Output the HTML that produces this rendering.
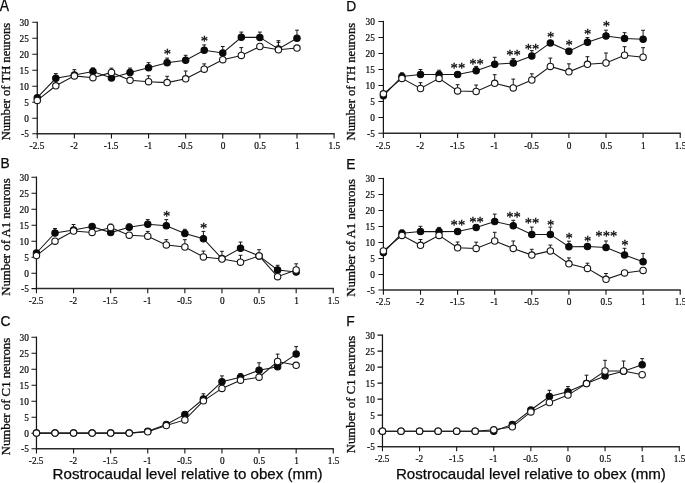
<!DOCTYPE html>
<html><head><meta charset="utf-8"><title>Figure</title>
<style>html,body{margin:0;padding:0;background:#fff}svg{display:block;will-change:transform;filter:grayscale(1)}</style></head>
<body>
<svg width="685" height="483" viewBox="0 0 685 483">
<rect width="685" height="483" fill="#fff"/>
<g stroke="#161616" stroke-width="1.1" fill="none">
<path d="M37.27 21.70V134.30" stroke-width="1.25"/>
<path d="M36.67 133.70H334.67" stroke="#2b2b2b" stroke-width="1.5"/>
<path d="M32.27 133.70H37.27M32.27 118.30H37.27M32.27 102.30H37.27M32.27 86.30H37.27M32.27 70.30H37.27M32.27 54.30H37.27M32.27 38.30H37.27M32.27 22.30H37.27M37.27 133.70V138.40M74.37 133.70V138.40M111.47 133.70V138.40M148.57 133.70V138.40M185.67 133.70V138.40M222.77 133.70V138.40M259.87 133.70V138.40M296.97 133.70V138.40M334.07 133.70V138.40"/>
</g>
<g font-family="Liberation Serif, serif" font-size="9.3" fill="#0a0a0a" stroke="#0a0a0a" stroke-width="0.2">
<text x="28.80" y="137.20" text-anchor="end">-5</text>
<text x="28.80" y="121.80" text-anchor="end">0</text>
<text x="28.80" y="105.80" text-anchor="end">5</text>
<text x="28.80" y="89.80" text-anchor="end">10</text>
<text x="28.80" y="73.80" text-anchor="end">15</text>
<text x="28.80" y="57.80" text-anchor="end">20</text>
<text x="28.80" y="41.80" text-anchor="end">25</text>
<text x="28.80" y="25.80" text-anchor="end">30</text>
<text x="36.97" y="149.30" text-anchor="middle">-2.5</text>
<text x="74.07" y="149.30" text-anchor="middle">-2</text>
<text x="111.17" y="149.30" text-anchor="middle">-1.5</text>
<text x="148.27" y="149.30" text-anchor="middle">-1</text>
<text x="185.37" y="149.30" text-anchor="middle">-0.5</text>
<text x="223.07" y="149.30" text-anchor="middle">0</text>
<text x="260.17" y="149.30" text-anchor="middle">0.5</text>
<text x="297.27" y="149.30" text-anchor="middle">1</text>
<text x="334.37" y="149.30" text-anchor="middle">1.5</text>
</g>
<text transform="translate(9.70 140.30) rotate(-90)" font-family="Liberation Serif, serif" font-size="12.2" fill="#0a0a0a" stroke="#0a0a0a" stroke-width="0.3" textLength="117.5" lengthAdjust="spacingAndGlyphs">Number of TH neurons</text>
<text x="-0.2" y="10.9" font-family="Liberation Sans, sans-serif" font-size="16.2" textLength="9.3" lengthAdjust="spacingAndGlyphs" fill="#0a0a0a" stroke="#0a0a0a" stroke-width="0.25">A</text>
<path d="M55.82 78.30V73.60M53.92 73.60H57.72M74.37 75.10V69.70M72.47 69.70H76.27M92.92 71.50V67.90M91.02 67.90H94.82M130.02 72.50V68.10M128.12 68.10H131.92M148.57 67.70V62.70M146.67 62.70H150.47M167.12 62.70V58.10M165.22 58.10H169.02M185.67 60.30V55.30M183.77 55.30H187.57M204.22 50.30V44.90M202.32 44.90H206.12M222.77 52.90V46.50M220.87 46.50H224.67M241.32 37.30V32.10M239.42 32.10H243.22M259.87 37.40V32.10M257.97 32.10H261.77M278.42 49.00V40.70M276.52 40.70H280.32M296.97 38.20V30.20M295.07 30.20H298.87M111.47 72.40V68.20M109.57 68.20H113.37M148.57 81.70V75.80M146.67 75.80H150.47M167.12 82.60V76.30M165.22 76.30H169.02M185.67 78.80V71.00M183.77 71.00H187.57M204.22 69.20V63.90M202.32 63.90H206.12M241.32 55.40V47.60M239.42 47.60H243.22M278.42 49.80V42.30M276.52 42.30H280.32" stroke="#161616" stroke-width="1" fill="none"/>
<polyline points="37.27,97.70 55.82,78.30 74.37,75.10 92.92,71.50 111.47,77.90 130.02,72.50 148.57,67.70 167.12,62.70 185.67,60.30 204.22,50.30 222.77,52.90 241.32,37.30 259.87,37.40 278.42,49.00 296.97,38.20" stroke="#161616" stroke-width="1.05" fill="none"/>
<polyline points="37.27,100.40 55.82,85.80 74.37,75.90 92.92,77.70 111.47,72.40 130.02,80.30 148.57,81.70 167.12,82.60 185.67,78.80 204.22,69.20 222.77,59.70 241.32,55.40 259.87,46.50 278.42,49.80 296.97,48.10" stroke="#161616" stroke-width="1.05" fill="none"/>
<g stroke="#0a0a0a" stroke-width="1.1" fill="#0a0a0a">
<circle cx="37.27" cy="97.70" r="3.2"/>
<circle cx="55.82" cy="78.30" r="3.2"/>
<circle cx="74.37" cy="75.10" r="3.2"/>
<circle cx="92.92" cy="71.50" r="3.2"/>
<circle cx="111.47" cy="77.90" r="3.2"/>
<circle cx="130.02" cy="72.50" r="3.2"/>
<circle cx="148.57" cy="67.70" r="3.2"/>
<circle cx="167.12" cy="62.70" r="3.2"/>
<circle cx="185.67" cy="60.30" r="3.2"/>
<circle cx="204.22" cy="50.30" r="3.2"/>
<circle cx="222.77" cy="52.90" r="3.2"/>
<circle cx="241.32" cy="37.30" r="3.2"/>
<circle cx="259.87" cy="37.40" r="3.2"/>
<circle cx="278.42" cy="49.00" r="3.2"/>
<circle cx="296.97" cy="38.20" r="3.2"/>
</g>
<g stroke="#161616" stroke-width="1.1" fill="#fff">
<circle cx="37.27" cy="100.40" r="3.2"/>
<circle cx="55.82" cy="85.80" r="3.2"/>
<circle cx="74.37" cy="75.90" r="3.2"/>
<circle cx="92.92" cy="77.70" r="3.2"/>
<circle cx="111.47" cy="72.40" r="3.2"/>
<circle cx="130.02" cy="80.30" r="3.2"/>
<circle cx="148.57" cy="81.70" r="3.2"/>
<circle cx="167.12" cy="82.60" r="3.2"/>
<circle cx="185.67" cy="78.80" r="3.2"/>
<circle cx="204.22" cy="69.20" r="3.2"/>
<circle cx="222.77" cy="59.70" r="3.2"/>
<circle cx="241.32" cy="55.40" r="3.2"/>
<circle cx="259.87" cy="46.50" r="3.2"/>
<circle cx="278.42" cy="49.80" r="3.2"/>
<circle cx="296.97" cy="48.10" r="3.2"/>
</g>
<g font-family="Liberation Serif, serif" font-size="14.6" fill="#0a0a0a" stroke="#0a0a0a" stroke-width="0.3" text-anchor="middle">
<text x="167.42" y="58.60">*</text>
<text x="204.52" y="45.80">*</text>
</g>
<g stroke="#161616" stroke-width="1.1" fill="none">
<path d="M36.46 176.60V289.20" stroke-width="1.25"/>
<path d="M35.86 288.60H333.86" stroke="#2b2b2b" stroke-width="1.5"/>
<path d="M31.46 288.60H36.46M31.46 273.20H36.46M31.46 257.20H36.46M31.46 241.20H36.46M31.46 225.20H36.46M31.46 209.20H36.46M31.46 193.20H36.46M31.46 177.20H36.46M36.46 288.60V293.30M73.56 288.60V293.30M110.66 288.60V293.30M147.76 288.60V293.30M184.86 288.60V293.30M221.96 288.60V293.30M259.06 288.60V293.30M296.16 288.60V293.30M333.26 288.60V293.30"/>
</g>
<g font-family="Liberation Serif, serif" font-size="9.3" fill="#0a0a0a" stroke="#0a0a0a" stroke-width="0.2">
<text x="28.80" y="292.10" text-anchor="end">-5</text>
<text x="28.80" y="276.70" text-anchor="end">0</text>
<text x="28.80" y="260.70" text-anchor="end">5</text>
<text x="28.80" y="244.70" text-anchor="end">10</text>
<text x="28.80" y="228.70" text-anchor="end">15</text>
<text x="28.80" y="212.70" text-anchor="end">20</text>
<text x="28.80" y="196.70" text-anchor="end">25</text>
<text x="28.80" y="180.70" text-anchor="end">30</text>
<text x="36.16" y="304.20" text-anchor="middle">-2.5</text>
<text x="73.26" y="304.20" text-anchor="middle">-2</text>
<text x="110.36" y="304.20" text-anchor="middle">-1.5</text>
<text x="147.46" y="304.20" text-anchor="middle">-1</text>
<text x="184.56" y="304.20" text-anchor="middle">-0.5</text>
<text x="222.26" y="304.20" text-anchor="middle">0</text>
<text x="259.36" y="304.20" text-anchor="middle">0.5</text>
<text x="296.46" y="304.20" text-anchor="middle">1</text>
<text x="333.56" y="304.20" text-anchor="middle">1.5</text>
</g>
<text transform="translate(9.70 295.80) rotate(-90)" font-family="Liberation Serif, serif" font-size="12.2" fill="#0a0a0a" stroke="#0a0a0a" stroke-width="0.3" textLength="117.5" lengthAdjust="spacingAndGlyphs">Number of A1 neurons</text>
<text x="0.50" y="168.30" font-family="Liberation Sans, sans-serif" font-size="13.8" fill="#0a0a0a" stroke="#0a0a0a" stroke-width="0.25">B</text>
<path d="M55.01 233.00V228.50M53.11 228.50H56.91M73.56 230.00V224.50M71.66 224.50H75.46M129.21 227.20V223.90M127.31 223.90H131.11M147.76 224.20V219.60M145.86 219.60H149.66M166.31 225.80V219.60M164.41 219.60H168.21M184.86 233.50V229.30M182.96 229.30H186.76M203.41 238.70V231.40M201.51 231.40H205.31M221.96 258.60V251.30M220.06 251.30H223.86M240.51 248.30V242.10M238.61 242.10H242.41M259.06 255.90V249.70M257.16 249.70H260.96M277.61 270.00V265.30M275.71 265.30H279.51M110.66 227.50V224.10M108.76 224.10H112.56M147.76 236.20V231.40M145.86 231.40H149.66M166.31 244.90V239.70M164.41 239.70H168.21M184.86 247.00V239.70M182.96 239.70H186.76M203.41 256.90V251.10M201.51 251.10H205.31M240.51 262.20V255.30M238.61 255.30H242.41M296.16 270.00V263.80M294.26 263.80H298.06" stroke="#161616" stroke-width="1" fill="none"/>
<polyline points="36.46,253.00 55.01,233.00 73.56,230.00 92.11,226.50 110.66,232.60 129.21,227.20 147.76,224.20 166.31,225.80 184.86,233.50 203.41,238.70 221.96,258.60 240.51,248.30 259.06,255.90 277.61,270.00 296.16,272.10" stroke="#161616" stroke-width="1.05" fill="none"/>
<polyline points="36.46,255.60 55.01,241.20 73.56,231.00 92.11,232.40 110.66,227.50 129.21,235.20 147.76,236.20 166.31,244.90 184.86,247.00 203.41,256.90 221.96,259.00 240.51,262.20 259.06,255.90 277.61,276.70 296.16,270.00" stroke="#161616" stroke-width="1.05" fill="none"/>
<g stroke="#0a0a0a" stroke-width="1.1" fill="#0a0a0a">
<circle cx="36.46" cy="253.00" r="3.2"/>
<circle cx="55.01" cy="233.00" r="3.2"/>
<circle cx="73.56" cy="230.00" r="3.2"/>
<circle cx="92.11" cy="226.50" r="3.2"/>
<circle cx="110.66" cy="232.60" r="3.2"/>
<circle cx="129.21" cy="227.20" r="3.2"/>
<circle cx="147.76" cy="224.20" r="3.2"/>
<circle cx="166.31" cy="225.80" r="3.2"/>
<circle cx="184.86" cy="233.50" r="3.2"/>
<circle cx="203.41" cy="238.70" r="3.2"/>
<circle cx="221.96" cy="258.60" r="3.2"/>
<circle cx="240.51" cy="248.30" r="3.2"/>
<circle cx="259.06" cy="255.90" r="3.2"/>
<circle cx="277.61" cy="270.00" r="3.2"/>
<circle cx="296.16" cy="272.10" r="3.2"/>
</g>
<g stroke="#161616" stroke-width="1.1" fill="#fff">
<circle cx="36.46" cy="255.60" r="3.2"/>
<circle cx="55.01" cy="241.20" r="3.2"/>
<circle cx="73.56" cy="231.00" r="3.2"/>
<circle cx="92.11" cy="232.40" r="3.2"/>
<circle cx="110.66" cy="227.50" r="3.2"/>
<circle cx="129.21" cy="235.20" r="3.2"/>
<circle cx="147.76" cy="236.20" r="3.2"/>
<circle cx="166.31" cy="244.90" r="3.2"/>
<circle cx="184.86" cy="247.00" r="3.2"/>
<circle cx="203.41" cy="256.90" r="3.2"/>
<circle cx="221.96" cy="259.00" r="3.2"/>
<circle cx="240.51" cy="262.20" r="3.2"/>
<circle cx="259.06" cy="255.90" r="3.2"/>
<circle cx="277.61" cy="276.70" r="3.2"/>
<circle cx="296.16" cy="270.00" r="3.2"/>
</g>
<g font-family="Liberation Serif, serif" font-size="14.6" fill="#0a0a0a" stroke="#0a0a0a" stroke-width="0.3" text-anchor="middle">
<text x="166.61" y="220.50">*</text>
<text x="203.71" y="232.70">*</text>
</g>
<g stroke="#161616" stroke-width="1.1" fill="none">
<path d="M36.46 336.66V449.30" stroke-width="1.25"/>
<path d="M35.86 448.70H333.86" stroke="#2b2b2b" stroke-width="1.5"/>
<path d="M31.46 448.70H36.46M31.46 433.26H36.46M31.46 417.26H36.46M31.46 401.26H36.46M31.46 385.26H36.46M31.46 369.26H36.46M31.46 353.26H36.46M31.46 337.26H36.46M36.46 448.70V453.40M73.56 448.70V453.40M110.66 448.70V453.40M147.76 448.70V453.40M184.86 448.70V453.40M221.96 448.70V453.40M259.06 448.70V453.40M296.16 448.70V453.40M333.26 448.70V453.40"/>
</g>
<g font-family="Liberation Serif, serif" font-size="9.3" fill="#0a0a0a" stroke="#0a0a0a" stroke-width="0.2">
<text x="28.80" y="452.20" text-anchor="end">-5</text>
<text x="28.80" y="436.76" text-anchor="end">0</text>
<text x="28.80" y="420.76" text-anchor="end">5</text>
<text x="28.80" y="404.76" text-anchor="end">10</text>
<text x="28.80" y="388.76" text-anchor="end">15</text>
<text x="28.80" y="372.76" text-anchor="end">20</text>
<text x="28.80" y="356.76" text-anchor="end">25</text>
<text x="28.80" y="340.76" text-anchor="end">30</text>
<text x="36.16" y="463.90" text-anchor="middle">-2.5</text>
<text x="73.26" y="463.90" text-anchor="middle">-2</text>
<text x="110.36" y="463.90" text-anchor="middle">-1.5</text>
<text x="147.46" y="463.90" text-anchor="middle">-1</text>
<text x="184.56" y="463.90" text-anchor="middle">-0.5</text>
<text x="222.26" y="463.90" text-anchor="middle">0</text>
<text x="259.36" y="463.90" text-anchor="middle">0.5</text>
<text x="296.46" y="463.90" text-anchor="middle">1</text>
<text x="333.56" y="463.90" text-anchor="middle">1.5</text>
</g>
<text transform="translate(9.70 455.30) rotate(-90)" font-family="Liberation Serif, serif" font-size="12.2" fill="#0a0a0a" stroke="#0a0a0a" stroke-width="0.3" textLength="117.5" lengthAdjust="spacingAndGlyphs">Number of C1 neurons</text>
<text x="0.50" y="325.80" font-family="Liberation Sans, sans-serif" font-size="13.8" fill="#0a0a0a" stroke="#0a0a0a" stroke-width="0.25">C</text>
<path d="M203.41 399.00V393.80M201.51 393.80H205.31M221.96 381.70V375.90M220.06 375.90H223.86M240.51 377.20V373.50M238.61 373.50H242.41M259.06 370.20V362.80M257.16 362.80H260.96M296.16 354.10V346.60M294.26 346.60H298.06M277.61 361.50V354.10M275.71 354.10H279.51" stroke="#161616" stroke-width="1" fill="none"/>
<polyline points="36.46,433.10 55.01,433.10 73.56,433.10 92.11,433.10 110.66,433.10 129.21,433.10 147.76,431.30 166.31,424.40 184.86,414.40 203.41,399.00 221.96,381.70 240.51,377.20 259.06,370.20 277.61,366.80 296.16,354.10" stroke="#161616" stroke-width="1.05" fill="none"/>
<polyline points="36.46,433.10 55.01,433.10 73.56,433.10 92.11,433.10 110.66,433.10 129.21,433.10 147.76,431.80 166.31,425.60 184.86,419.90 203.41,400.80 221.96,388.40 240.51,380.20 259.06,377.20 277.61,361.50 296.16,365.30" stroke="#161616" stroke-width="1.05" fill="none"/>
<g stroke="#0a0a0a" stroke-width="1.1" fill="#0a0a0a">
<circle cx="36.46" cy="433.10" r="3.2"/>
<circle cx="55.01" cy="433.10" r="3.2"/>
<circle cx="73.56" cy="433.10" r="3.2"/>
<circle cx="92.11" cy="433.10" r="3.2"/>
<circle cx="110.66" cy="433.10" r="3.2"/>
<circle cx="129.21" cy="433.10" r="3.2"/>
<circle cx="147.76" cy="431.30" r="3.2"/>
<circle cx="166.31" cy="424.40" r="3.2"/>
<circle cx="184.86" cy="414.40" r="3.2"/>
<circle cx="203.41" cy="399.00" r="3.2"/>
<circle cx="221.96" cy="381.70" r="3.2"/>
<circle cx="240.51" cy="377.20" r="3.2"/>
<circle cx="259.06" cy="370.20" r="3.2"/>
<circle cx="277.61" cy="366.80" r="3.2"/>
<circle cx="296.16" cy="354.10" r="3.2"/>
</g>
<g stroke="#161616" stroke-width="1.1" fill="#fff">
<circle cx="36.46" cy="433.10" r="3.2"/>
<circle cx="55.01" cy="433.10" r="3.2"/>
<circle cx="73.56" cy="433.10" r="3.2"/>
<circle cx="92.11" cy="433.10" r="3.2"/>
<circle cx="110.66" cy="433.10" r="3.2"/>
<circle cx="129.21" cy="433.10" r="3.2"/>
<circle cx="147.76" cy="431.80" r="3.2"/>
<circle cx="166.31" cy="425.60" r="3.2"/>
<circle cx="184.86" cy="419.90" r="3.2"/>
<circle cx="203.41" cy="400.80" r="3.2"/>
<circle cx="221.96" cy="388.40" r="3.2"/>
<circle cx="240.51" cy="380.20" r="3.2"/>
<circle cx="259.06" cy="377.20" r="3.2"/>
<circle cx="277.61" cy="361.50" r="3.2"/>
<circle cx="296.16" cy="365.30" r="3.2"/>
</g>
<g font-family="Liberation Serif, serif" font-size="14.6" fill="#0a0a0a" stroke="#0a0a0a" stroke-width="0.3" text-anchor="middle">
</g>
<g stroke="#161616" stroke-width="1.1" fill="none">
<path d="M383.40 20.85V133.80" stroke-width="1.25"/>
<path d="M382.80 133.20H680.80" stroke="#2b2b2b" stroke-width="1.5"/>
<path d="M378.40 133.20H383.40M378.40 117.45H383.40M378.40 101.45H383.40M378.40 85.45H383.40M378.40 69.45H383.40M378.40 53.45H383.40M378.40 37.45H383.40M378.40 21.45H383.40M383.40 133.20V137.90M420.50 133.20V137.90M457.60 133.20V137.90M494.70 133.20V137.90M531.80 133.20V137.90M568.90 133.20V137.90M606.00 133.20V137.90M643.10 133.20V137.90M680.20 133.20V137.90"/>
</g>
<g font-family="Liberation Serif, serif" font-size="9.3" fill="#0a0a0a" stroke="#0a0a0a" stroke-width="0.2">
<text x="374.80" y="136.70" text-anchor="end">-5</text>
<text x="374.80" y="120.95" text-anchor="end">0</text>
<text x="374.80" y="104.95" text-anchor="end">5</text>
<text x="374.80" y="88.95" text-anchor="end">10</text>
<text x="374.80" y="72.95" text-anchor="end">15</text>
<text x="374.80" y="56.95" text-anchor="end">20</text>
<text x="374.80" y="40.95" text-anchor="end">25</text>
<text x="374.80" y="24.95" text-anchor="end">30</text>
<text x="383.10" y="148.80" text-anchor="middle">-2.5</text>
<text x="420.20" y="148.80" text-anchor="middle">-2</text>
<text x="457.30" y="148.80" text-anchor="middle">-1.5</text>
<text x="494.40" y="148.80" text-anchor="middle">-1</text>
<text x="531.50" y="148.80" text-anchor="middle">-0.5</text>
<text x="569.20" y="148.80" text-anchor="middle">0</text>
<text x="606.30" y="148.80" text-anchor="middle">0.5</text>
<text x="643.40" y="148.80" text-anchor="middle">1</text>
<text x="680.50" y="148.80" text-anchor="middle">1.5</text>
</g>
<text transform="translate(354.80 140.40) rotate(-90)" font-family="Liberation Serif, serif" font-size="12.2" fill="#0a0a0a" stroke="#0a0a0a" stroke-width="0.3" textLength="117.5" lengthAdjust="spacingAndGlyphs">Number of TH neurons</text>
<text x="346.20" y="10.90" font-family="Liberation Sans, sans-serif" font-size="13.8" fill="#0a0a0a" stroke="#0a0a0a" stroke-width="0.25">D</text>
<path d="M401.95 76.40V72.80M400.05 72.80H403.85M420.50 74.50V69.50M418.60 69.50H422.40M439.05 74.50V70.20M437.15 70.20H440.95M476.15 70.70V66.40M474.25 66.40H478.05M494.70 64.20V57.30M492.80 57.30H496.60M513.25 63.10V58.60M511.35 58.60H515.15M531.80 56.10V50.60M529.90 50.60H533.70M587.45 42.30V37.60M585.55 37.60H589.35M606.00 36.00V30.20M604.10 30.20H607.90M624.55 38.60V32.70M622.65 32.70H626.45M643.10 39.30V30.30M641.20 30.30H645.00M420.50 88.50V82.70M418.60 82.70H422.40M457.60 90.90V84.70M455.70 84.70H459.50M476.15 91.50V85.05M474.25 85.05H478.05M494.70 83.30V74.70M492.80 74.70H496.60M513.25 87.90V79.10M511.35 79.10H515.15M531.80 80.00V73.80M529.90 73.80H533.70M550.35 66.40V58.10M548.45 58.10H552.25M568.90 71.85V63.85M567.00 63.85H570.80M587.45 64.30V56.70M585.55 56.70H589.35M606.00 63.00V53.00M604.10 53.00H607.90M624.55 55.20V46.70M622.65 46.70H626.45M643.10 57.20V47.70M641.20 47.70H645.00" stroke="#161616" stroke-width="1" fill="none"/>
<polyline points="383.40,95.80 401.95,76.40 420.50,74.50 439.05,74.50 457.60,74.50 476.15,70.70 494.70,64.20 513.25,63.10 531.80,56.10 550.35,42.90 568.90,51.20 587.45,42.30 606.00,36.00 624.55,38.60 643.10,39.30" stroke="#161616" stroke-width="1.05" fill="none"/>
<polyline points="383.40,93.80 401.95,78.40 420.50,88.50 439.05,78.40 457.60,90.90 476.15,91.50 494.70,83.30 513.25,87.90 531.80,80.00 550.35,66.40 568.90,71.85 587.45,64.30 606.00,63.00 624.55,55.20 643.10,57.20" stroke="#161616" stroke-width="1.05" fill="none"/>
<g stroke="#0a0a0a" stroke-width="1.1" fill="#0a0a0a">
<circle cx="383.40" cy="95.80" r="3.2"/>
<circle cx="401.95" cy="76.40" r="3.2"/>
<circle cx="420.50" cy="74.50" r="3.2"/>
<circle cx="439.05" cy="74.50" r="3.2"/>
<circle cx="457.60" cy="74.50" r="3.2"/>
<circle cx="476.15" cy="70.70" r="3.2"/>
<circle cx="494.70" cy="64.20" r="3.2"/>
<circle cx="513.25" cy="63.10" r="3.2"/>
<circle cx="531.80" cy="56.10" r="3.2"/>
<circle cx="550.35" cy="42.90" r="3.2"/>
<circle cx="568.90" cy="51.20" r="3.2"/>
<circle cx="587.45" cy="42.30" r="3.2"/>
<circle cx="606.00" cy="36.00" r="3.2"/>
<circle cx="624.55" cy="38.60" r="3.2"/>
<circle cx="643.10" cy="39.30" r="3.2"/>
</g>
<g stroke="#161616" stroke-width="1.1" fill="#fff">
<circle cx="383.40" cy="93.80" r="3.2"/>
<circle cx="401.95" cy="78.40" r="3.2"/>
<circle cx="420.50" cy="88.50" r="3.2"/>
<circle cx="439.05" cy="78.40" r="3.2"/>
<circle cx="457.60" cy="90.90" r="3.2"/>
<circle cx="476.15" cy="91.50" r="3.2"/>
<circle cx="494.70" cy="83.30" r="3.2"/>
<circle cx="513.25" cy="87.90" r="3.2"/>
<circle cx="531.80" cy="80.00" r="3.2"/>
<circle cx="550.35" cy="66.40" r="3.2"/>
<circle cx="568.90" cy="71.85" r="3.2"/>
<circle cx="587.45" cy="64.30" r="3.2"/>
<circle cx="606.00" cy="63.00" r="3.2"/>
<circle cx="624.55" cy="55.20" r="3.2"/>
<circle cx="643.10" cy="57.20" r="3.2"/>
</g>
<g font-family="Liberation Serif, serif" font-size="14.6" fill="#0a0a0a" stroke="#0a0a0a" stroke-width="0.3" text-anchor="middle">
<text x="457.90" y="72.80">**</text>
<text x="476.45" y="68.50">**</text>
<text x="513.55" y="59.70">**</text>
<text x="532.10" y="53.60">**</text>
<text x="550.65" y="41.50">*</text>
<text x="569.20" y="49.80">*</text>
<text x="587.75" y="38.60">*</text>
<text x="606.30" y="31.10">*</text>
</g>
<g stroke="#161616" stroke-width="1.1" fill="none">
<path d="M383.40 177.84V290.63" stroke-width="1.25"/>
<path d="M382.80 290.03H680.80" stroke="#2b2b2b" stroke-width="1.5"/>
<path d="M378.40 290.03H383.40M378.40 274.44H383.40M378.40 258.44H383.40M378.40 242.44H383.40M378.40 226.44H383.40M378.40 210.44H383.40M378.40 194.44H383.40M378.40 178.44H383.40M383.40 290.03V294.73M420.50 290.03V294.73M457.60 290.03V294.73M494.70 290.03V294.73M531.80 290.03V294.73M568.90 290.03V294.73M606.00 290.03V294.73M643.10 290.03V294.73M680.20 290.03V294.73"/>
</g>
<g font-family="Liberation Serif, serif" font-size="9.3" fill="#0a0a0a" stroke="#0a0a0a" stroke-width="0.2">
<text x="374.80" y="293.53" text-anchor="end">-5</text>
<text x="374.80" y="277.94" text-anchor="end">0</text>
<text x="374.80" y="261.94" text-anchor="end">5</text>
<text x="374.80" y="245.94" text-anchor="end">10</text>
<text x="374.80" y="229.94" text-anchor="end">15</text>
<text x="374.80" y="213.94" text-anchor="end">20</text>
<text x="374.80" y="197.94" text-anchor="end">25</text>
<text x="374.80" y="181.94" text-anchor="end">30</text>
<text x="383.10" y="305.03" text-anchor="middle">-2.5</text>
<text x="420.20" y="305.03" text-anchor="middle">-2</text>
<text x="457.30" y="305.03" text-anchor="middle">-1.5</text>
<text x="494.40" y="305.03" text-anchor="middle">-1</text>
<text x="531.50" y="305.03" text-anchor="middle">-0.5</text>
<text x="569.20" y="305.03" text-anchor="middle">0</text>
<text x="606.30" y="305.03" text-anchor="middle">0.5</text>
<text x="643.40" y="305.03" text-anchor="middle">1</text>
<text x="680.50" y="305.03" text-anchor="middle">1.5</text>
</g>
<text transform="translate(355.20 296.63) rotate(-90)" font-family="Liberation Serif, serif" font-size="12.2" fill="#0a0a0a" stroke="#0a0a0a" stroke-width="0.3" textLength="117.5" lengthAdjust="spacingAndGlyphs">Number of A1 neurons</text>
<text x="346.20" y="168.60" font-family="Liberation Sans, sans-serif" font-size="13.8" fill="#0a0a0a" stroke="#0a0a0a" stroke-width="0.25">E</text>
<path d="M401.95 233.30V230.00M400.05 230.00H403.85M420.50 231.60V226.30M418.60 226.30H422.40M439.05 231.60V227.40M437.15 227.40H440.95M494.70 221.50V214.10M492.80 214.10H496.60M513.25 225.70V220.30M511.35 220.30H515.15M531.80 234.40V227.10M529.90 227.10H533.70M550.35 234.40V227.10M548.45 227.10H552.25M568.90 246.70V241.20M567.00 241.20H570.80M606.00 247.60V241.00M604.10 241.00H607.90M624.55 254.90V248.30M622.65 248.30H626.45M643.10 261.70V253.40M641.20 253.40H645.00M420.50 245.30V239.50M418.60 239.50H422.40M457.60 247.80V242.00M455.70 242.00H459.50M476.15 248.40V242.20M474.25 242.20H478.05M494.70 241.00V232.30M492.80 232.30H496.60M513.25 248.40V241.00M511.35 241.00H515.15M531.80 255.10V249.30M529.90 249.30H533.70M550.35 250.90V245.10M548.45 245.10H552.25M568.90 263.80V257.90M567.00 257.90H570.80M587.45 268.40V263.20M585.55 263.20H589.35M606.00 279.30V273.50M604.10 273.50H607.90" stroke="#161616" stroke-width="1" fill="none"/>
<polyline points="383.40,252.70 401.95,233.30 420.50,231.60 439.05,231.60 457.60,231.40 476.15,227.50 494.70,221.50 513.25,225.70 531.80,234.40 550.35,234.40 568.90,246.70 587.45,246.60 606.00,247.60 624.55,254.90 643.10,261.70" stroke="#161616" stroke-width="1.05" fill="none"/>
<polyline points="383.40,250.90 401.95,235.40 420.50,245.30 439.05,235.40 457.60,247.80 476.15,248.40 494.70,241.00 513.25,248.40 531.80,255.10 550.35,250.90 568.90,263.80 587.45,268.40 606.00,279.30 624.55,272.90 643.10,270.40" stroke="#161616" stroke-width="1.05" fill="none"/>
<g stroke="#0a0a0a" stroke-width="1.1" fill="#0a0a0a">
<circle cx="383.40" cy="252.70" r="3.2"/>
<circle cx="401.95" cy="233.30" r="3.2"/>
<circle cx="420.50" cy="231.60" r="3.2"/>
<circle cx="439.05" cy="231.60" r="3.2"/>
<circle cx="457.60" cy="231.40" r="3.2"/>
<circle cx="476.15" cy="227.50" r="3.2"/>
<circle cx="494.70" cy="221.50" r="3.2"/>
<circle cx="513.25" cy="225.70" r="3.2"/>
<circle cx="531.80" cy="234.40" r="3.2"/>
<circle cx="550.35" cy="234.40" r="3.2"/>
<circle cx="568.90" cy="246.70" r="3.2"/>
<circle cx="587.45" cy="246.60" r="3.2"/>
<circle cx="606.00" cy="247.60" r="3.2"/>
<circle cx="624.55" cy="254.90" r="3.2"/>
<circle cx="643.10" cy="261.70" r="3.2"/>
</g>
<g stroke="#161616" stroke-width="1.1" fill="#fff">
<circle cx="383.40" cy="250.90" r="3.2"/>
<circle cx="401.95" cy="235.40" r="3.2"/>
<circle cx="420.50" cy="245.30" r="3.2"/>
<circle cx="439.05" cy="235.40" r="3.2"/>
<circle cx="457.60" cy="247.80" r="3.2"/>
<circle cx="476.15" cy="248.40" r="3.2"/>
<circle cx="494.70" cy="241.00" r="3.2"/>
<circle cx="513.25" cy="248.40" r="3.2"/>
<circle cx="531.80" cy="255.10" r="3.2"/>
<circle cx="550.35" cy="250.90" r="3.2"/>
<circle cx="568.90" cy="263.80" r="3.2"/>
<circle cx="587.45" cy="268.40" r="3.2"/>
<circle cx="606.00" cy="279.30" r="3.2"/>
<circle cx="624.55" cy="272.90" r="3.2"/>
<circle cx="643.10" cy="270.40" r="3.2"/>
</g>
<g font-family="Liberation Serif, serif" font-size="14.6" fill="#0a0a0a" stroke="#0a0a0a" stroke-width="0.3" text-anchor="middle">
<text x="457.90" y="230.10">**</text>
<text x="476.45" y="226.50">**</text>
<text x="513.55" y="222.20">**</text>
<text x="532.10" y="228.40">**</text>
<text x="550.65" y="230.10">*</text>
<text x="569.20" y="243.10">*</text>
<text x="587.75" y="245.80">*</text>
<text x="606.30" y="241.30">***</text>
<text x="624.85" y="250.00">*</text>
</g>
<g stroke="#161616" stroke-width="1.1" fill="none">
<path d="M382.46 334.53V447.26" stroke-width="1.25"/>
<path d="M381.86 446.66H679.86" stroke="#2b2b2b" stroke-width="1.5"/>
<path d="M377.46 446.66H382.46M377.46 431.13H382.46M377.46 415.13H382.46M377.46 399.13H382.46M377.46 383.13H382.46M377.46 367.13H382.46M377.46 351.13H382.46M377.46 335.13H382.46M382.46 446.66V451.36M419.56 446.66V451.36M456.66 446.66V451.36M493.76 446.66V451.36M530.86 446.66V451.36M567.96 446.66V451.36M605.06 446.66V451.36M642.16 446.66V451.36M679.26 446.66V451.36"/>
</g>
<g font-family="Liberation Serif, serif" font-size="9.3" fill="#0a0a0a" stroke="#0a0a0a" stroke-width="0.2">
<text x="374.80" y="450.16" text-anchor="end">-5</text>
<text x="374.80" y="434.63" text-anchor="end">0</text>
<text x="374.80" y="418.63" text-anchor="end">5</text>
<text x="374.80" y="402.63" text-anchor="end">10</text>
<text x="374.80" y="386.63" text-anchor="end">15</text>
<text x="374.80" y="370.63" text-anchor="end">20</text>
<text x="374.80" y="354.63" text-anchor="end">25</text>
<text x="374.80" y="338.63" text-anchor="end">30</text>
<text x="382.16" y="461.76" text-anchor="middle">-2.5</text>
<text x="419.26" y="461.76" text-anchor="middle">-2</text>
<text x="456.36" y="461.76" text-anchor="middle">-1.5</text>
<text x="493.46" y="461.76" text-anchor="middle">-1</text>
<text x="530.56" y="461.76" text-anchor="middle">-0.5</text>
<text x="568.26" y="461.76" text-anchor="middle">0</text>
<text x="605.36" y="461.76" text-anchor="middle">0.5</text>
<text x="642.46" y="461.76" text-anchor="middle">1</text>
<text x="679.56" y="461.76" text-anchor="middle">1.5</text>
</g>
<text transform="translate(355.20 453.26) rotate(-90)" font-family="Liberation Serif, serif" font-size="12.2" fill="#0a0a0a" stroke="#0a0a0a" stroke-width="0.3" textLength="117.5" lengthAdjust="spacingAndGlyphs">Number of C1 neurons</text>
<text x="346.20" y="325.80" font-family="Liberation Sans, sans-serif" font-size="13.8" fill="#0a0a0a" stroke="#0a0a0a" stroke-width="0.25">F</text>
<path d="M549.41 396.60V390.30M547.51 390.30H551.31M567.96 391.80V386.60M566.06 386.60H569.86M586.51 383.40V375.20M584.61 375.20H588.41M623.61 371.20V361.00M621.71 361.00H625.51M642.16 364.80V358.60M640.26 358.60H644.06M605.06 371.00V360.30M603.16 360.30H606.96" stroke="#161616" stroke-width="1" fill="none"/>
<polyline points="382.46,431.20 401.01,431.20 419.56,431.20 438.11,431.20 456.66,431.20 475.21,431.20 493.76,431.30 512.31,424.40 530.86,410.00 549.41,396.60 567.96,391.80 586.51,383.40 605.06,375.90 623.61,371.20 642.16,364.80" stroke="#161616" stroke-width="1.05" fill="none"/>
<polyline points="382.46,431.20 401.01,431.20 419.56,431.20 438.11,431.20 456.66,431.20 475.21,431.20 493.76,429.80 512.31,426.80 530.86,411.90 549.41,402.50 567.96,395.10 586.51,383.60 605.06,371.00 623.61,371.00 642.16,374.70" stroke="#161616" stroke-width="1.05" fill="none"/>
<g stroke="#0a0a0a" stroke-width="1.1" fill="#0a0a0a">
<circle cx="382.46" cy="431.20" r="3.2"/>
<circle cx="401.01" cy="431.20" r="3.2"/>
<circle cx="419.56" cy="431.20" r="3.2"/>
<circle cx="438.11" cy="431.20" r="3.2"/>
<circle cx="456.66" cy="431.20" r="3.2"/>
<circle cx="475.21" cy="431.20" r="3.2"/>
<circle cx="493.76" cy="431.30" r="3.2"/>
<circle cx="512.31" cy="424.40" r="3.2"/>
<circle cx="530.86" cy="410.00" r="3.2"/>
<circle cx="549.41" cy="396.60" r="3.2"/>
<circle cx="567.96" cy="391.80" r="3.2"/>
<circle cx="586.51" cy="383.40" r="3.2"/>
<circle cx="605.06" cy="375.90" r="3.2"/>
<circle cx="623.61" cy="371.20" r="3.2"/>
<circle cx="642.16" cy="364.80" r="3.2"/>
</g>
<g stroke="#161616" stroke-width="1.1" fill="#fff">
<circle cx="382.46" cy="431.20" r="3.2"/>
<circle cx="401.01" cy="431.20" r="3.2"/>
<circle cx="419.56" cy="431.20" r="3.2"/>
<circle cx="438.11" cy="431.20" r="3.2"/>
<circle cx="456.66" cy="431.20" r="3.2"/>
<circle cx="475.21" cy="431.20" r="3.2"/>
<circle cx="493.76" cy="429.80" r="3.2"/>
<circle cx="512.31" cy="426.80" r="3.2"/>
<circle cx="530.86" cy="411.90" r="3.2"/>
<circle cx="549.41" cy="402.50" r="3.2"/>
<circle cx="567.96" cy="395.10" r="3.2"/>
<circle cx="586.51" cy="383.60" r="3.2"/>
<circle cx="605.06" cy="371.00" r="3.2"/>
<circle cx="623.61" cy="371.00" r="3.2"/>
<circle cx="642.16" cy="374.70" r="3.2"/>
</g>
<g font-family="Liberation Serif, serif" font-size="14.6" fill="#0a0a0a" stroke="#0a0a0a" stroke-width="0.3" text-anchor="middle">
</g>
<text x="52.6" y="479.2" font-family="Liberation Sans, sans-serif" font-size="14.2" fill="#0a0a0a" stroke="#0a0a0a" stroke-width="0.25" textLength="270" lengthAdjust="spacingAndGlyphs">Rostrocaudal level relative to obex (mm)</text>
<text x="395.9" y="479.2" font-family="Liberation Sans, sans-serif" font-size="14.2" fill="#0a0a0a" stroke="#0a0a0a" stroke-width="0.25" textLength="270" lengthAdjust="spacingAndGlyphs">Rostrocaudal level relative to obex (mm)</text>
</svg>
</body></html>
